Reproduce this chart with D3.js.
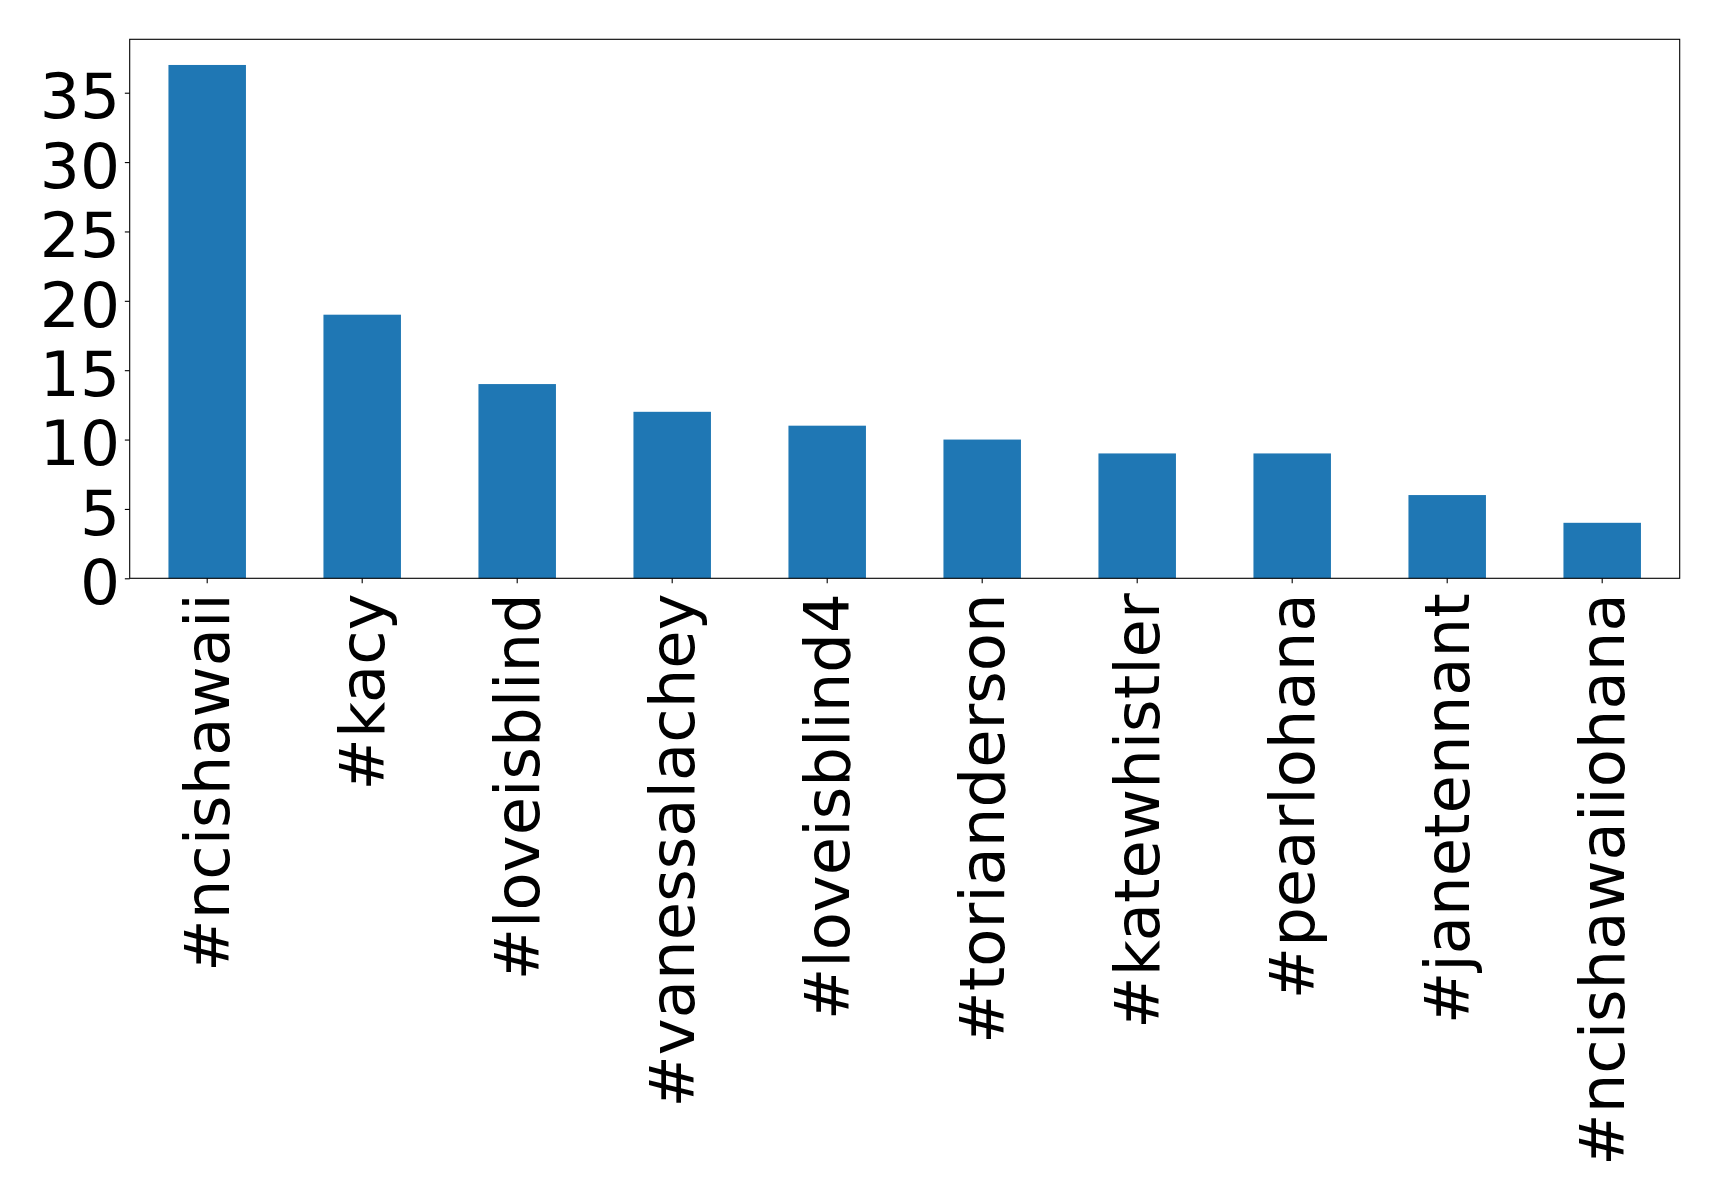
<!DOCTYPE html>
<html>
<head>
<meta charset="utf-8">
<script src="https://cdn.jsdelivr.net/npm/d3@7"></script>
<style>
  html, body { margin: 0; padding: 0; background: #fff; }
  svg { display: block; }
</style>
</head>
<body>
<svg id="chart" width="1719" height="1200"></svg>
<script>
const categories = ["#ncishawaii", "#kacy", "#loveisblind", "#vanessalachey", "#loveisblind4",
                    "#torianderson", "#katewhistler", "#pearlohana", "#janetennant", "#ncishawaiiohana"];
const counts = [37, 19, 14, 12, 11, 10, 9, 9, 6, 4];
const yTicks = [0, 5, 10, 15, 20, 25, 30, 35];

const svg = d3.select("#chart");
const plotLeft = 129.7, plotRight = 1679.7, plotTop = 39.3, plotBottom = 578.3;
const font = "DejaVu Sans";
const fs = 63;
const fsX = 62.5;

const x = d3.scaleBand().domain(categories).range([plotLeft, plotRight]).paddingInner(0.5).paddingOuter(0.25);
const y = d3.scaleLinear().domain([0, d3.max(counts) * 1.05]).range([plotBottom, plotTop]);

svg.append("g").selectAll("rect").data(categories).join("rect")
  .attr("x", d => x(d))
  .attr("width", x.bandwidth())
  .attr("y", (d, i) => y(counts[i]))
  .attr("height", (d, i) => y(0) - y(counts[i]))
  .attr("fill", "#1f77b4");

// Y axis
const yAxis = svg.append("g").attr("transform", `translate(${plotLeft},0)`)
  .call(d3.axisLeft(y).tickValues(yTicks).tickSize(4.86).tickPadding(4.86).tickFormat(d3.format("d")));
yAxis.select(".domain").remove();
yAxis.selectAll("line").attr("stroke", "#000").attr("stroke-width", 1.1);
yAxis.selectAll("text").attr("font-family", font).attr("font-size", fs).attr("fill", "#000").attr("dy", "0.4em");

// X axis
const xAxis = svg.append("g").attr("transform", `translate(0,${plotBottom})`)
  .call(d3.axisBottom(x).tickSize(4.86).tickSizeOuter(0).tickPadding(0));
xAxis.select(".domain").remove();
xAxis.selectAll("line").attr("stroke", "#000").attr("stroke-width", 1.1);
xAxis.selectAll("text")
  .attr("font-family", font).attr("font-size", fsX).attr("fill", "#000")
  .attr("text-anchor", "end")
  .attr("dy", null).attr("y", null)
  .attr("transform", "translate(22,15) rotate(-90)");

// Frame
svg.append("rect").attr("x", plotLeft).attr("y", plotTop).attr("width", plotRight - plotLeft).attr("height", plotBottom - plotTop)
  .attr("fill", "none").attr("stroke", "#000").attr("stroke-width", 1.1);
</script>
</body>
</html>
